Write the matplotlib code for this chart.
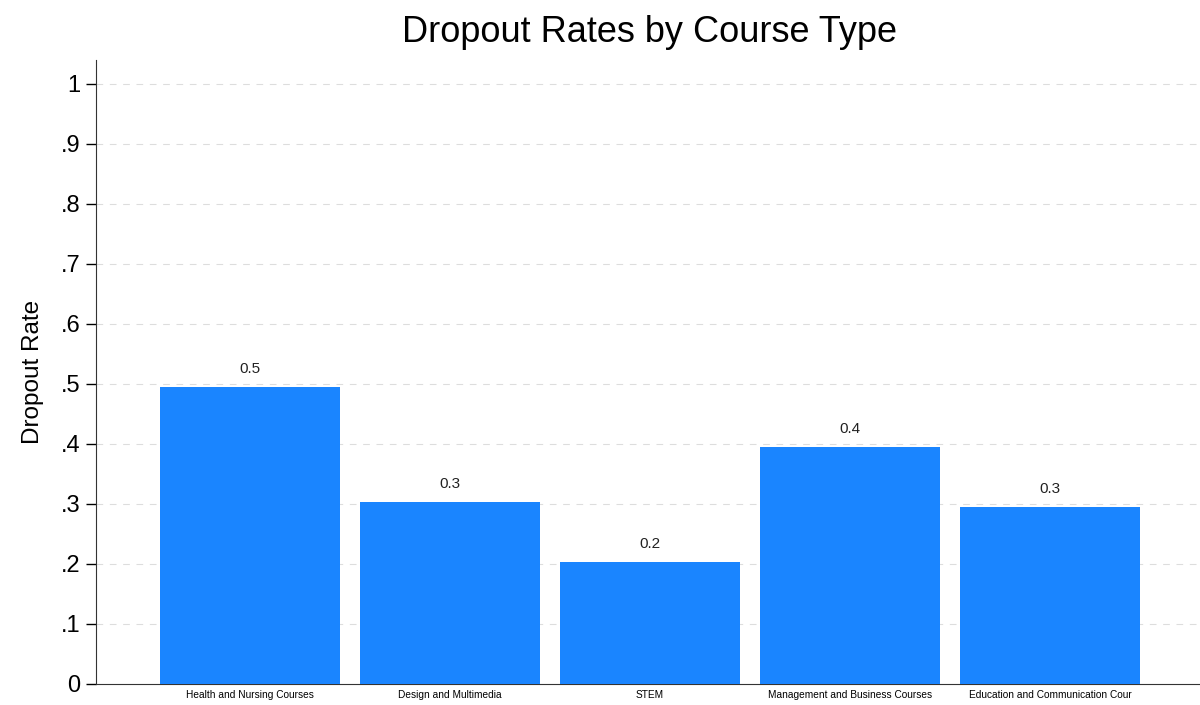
import matplotlib
matplotlib.use("Agg")
import matplotlib.pyplot as plt
import numpy as np

categories = ["Health and Nursing Courses", "Design and Multimedia", "STEM",
              "Management and Business Courses", "Education and Communication Cour"]
values = [0.495, 0.303, 0.203, 0.395, 0.295]
yticks = [0, 0.1, 0.2, 0.3, 0.4, 0.5, 0.6, 0.7, 0.8, 0.9, 1.0]
ytick_labels = ["0", ".1", ".2", ".3", ".4", ".5", ".6", ".7", ".8", ".9", "1"]

plt.rcParams['font.family'] = ['Liberation Sans', 'DejaVu Sans']

fig = plt.figure(figsize=(12, 7.05), dpi=100)
ax = fig.add_axes([96/1200, (705-684)/705, (1200-96)/1200, (684-60)/705])

x = np.arange(len(categories))
bars = ax.bar(x, values, width=0.9, color="#1a85ff", zorder=3)
for xi, v in zip(x, values):
    ax.annotate(f"{v:.1f}", (xi, v), xytext=(0, 8), textcoords="offset points",
                ha="center", va="bottom", fontsize=11, color="#222222")

ax.set_xlim(-0.77, 4.75)
ax.set_ylim(0, 1.04)
ax.set_yticks(yticks)
ax.set_yticklabels(ytick_labels, fontsize=17)
ax.set_xticks(x)
ax.set_xticklabels(categories, fontsize=7.3)
ax.tick_params(axis="x", length=0, pad=4)
ax.tick_params(axis="y", length=7, width=1, direction="out", pad=4)
for yv in yticks[1:]:
    ax.axhline(yv, color="#dddddd", linestyle=(0, (6, 6)), linewidth=0.8, zorder=1)
ax.spines["top"].set_visible(False)
ax.spines["right"].set_visible(False)
ax.spines["left"].set_color("#333333")
ax.spines["bottom"].set_color("#333333")
ax.set_ylabel("Dropout Rate", fontsize=17.5, labelpad=12)
fig.text(650/1200, 1 - 32/705, "Dropout Rates by Course Type", fontsize=26,
         ha="center", va="center")

fig.savefig("out.png", dpi=100)
